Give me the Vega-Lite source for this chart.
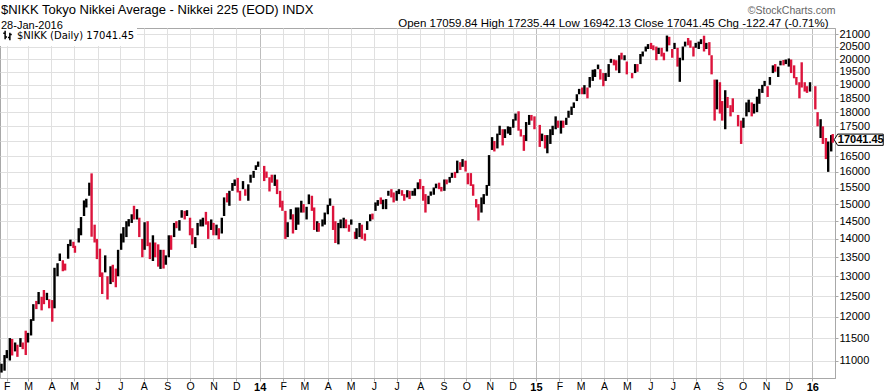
{
  "$schema": "https://vega.github.io/schema/vega-lite/v6.json",
  "width": 835,
  "height": 350,
  "autosize": {"type": "none"},
  "padding": {"left": 0, "top": 28, "right": 53, "bottom": 13},
  "background": "white",
  "config": {
    "font": "Liberation Sans",
    "view": {"stroke": "#a8a8a8"},
    "axis": {"labelFont": "Liberation Sans", "labelColor": "#000", "titleFont": "Liberation Sans"}
  },
  "title": {
    "text": "$NIKK Tokyo Nikkei Average - Nikkei 225 (EOD) INDX",
    "subtitle": "28-Jan-2016",
    "anchor": "start",
    "frame": "group",
    "offset": -26,
    "font": "Liberation Sans",
    "fontSize": 13,
    "fontWeight": "normal",
    "color": "#000",
    "subtitleFont": "Liberation Sans",
    "subtitleFontSize": 11,
    "subtitleColor": "#000",
    "subtitlePadding": 3,
    "dx": 1
  },
  "datasets": {
    "nikk": [
      {"d":"2013-01-25","h":10930,"l":10740,"c":10926},
      {"d":"2013-01-29","h":11120,"l":10780,"c":11113},
      {"d":"2013-02-01","h":11230,"l":11050,"c":11191},
      {"d":"2013-02-05","h":11500,"l":11000,"c":11463},
      {"d":"2013-02-08","h":11480,"l":11110,"c":11153},
      {"d":"2013-02-12","h":11400,"l":11200,"c":11251},
      {"d":"2013-02-15","h":11350,"l":11080,"c":11173},
      {"d":"2013-02-19","h":11500,"l":11300,"c":11468},
      {"d":"2013-02-22","h":11400,"l":11250,"c":11385},
      {"d":"2013-02-26","h":11670,"l":11120,"c":11253},
      {"d":"2013-03-01","h":11620,"l":11400,"c":11606},
      {"d":"2013-03-05","h":11940,"l":11560,"c":11932},
      {"d":"2013-03-08","h":12300,"l":11900,"c":12283},
      {"d":"2013-03-12","h":12380,"l":12180,"c":12239},
      {"d":"2013-03-15","h":12600,"l":12300,"c":12560},
      {"d":"2013-03-19","h":12480,"l":12150,"c":12468},
      {"d":"2013-03-22","h":12650,"l":12300,"c":12338},
      {"d":"2013-03-26","h":12580,"l":12400,"c":12494},
      {"d":"2013-03-29","h":12420,"l":12200,"c":12397},
      {"d":"2013-04-02","h":12400,"l":11880,"c":12362},
      {"d":"2013-04-05","h":13220,"l":12200,"c":12833},
      {"d":"2013-04-09","h":13340,"l":13000,"c":13288},
      {"d":"2013-04-12","h":13600,"l":13400,"c":13485},
      {"d":"2013-04-16","h":13420,"l":13130,"c":13382},
      {"d":"2013-04-19","h":13330,"l":13150,"c":13316},
      {"d":"2013-04-23","h":13860,"l":13460,"c":13843},
      {"d":"2013-04-26","h":13980,"l":13800,"c":13884},
      {"d":"2013-04-30","h":13920,"l":13750,"c":13799},
      {"d":"2013-05-02","h":13810,"l":13620,"c":13694},
      {"d":"2013-05-07","h":14300,"l":13900,"c":14285},
      {"d":"2013-05-10","h":14620,"l":14100,"c":14607},
      {"d":"2013-05-14","h":15110,"l":14650,"c":15096},
      {"d":"2013-05-17","h":15160,"l":14900,"c":15138},
      {"d":"2013-05-21","h":15650,"l":15250,"c":15627},
      {"d":"2013-05-24","h":15942,"l":14060,"c":14612},
      {"d":"2013-05-28","h":14400,"l":13900,"c":14326},
      {"d":"2013-05-31","h":14000,"l":13450,"c":13775},
      {"d":"2013-06-04","h":13730,"l":12980,"c":13014},
      {"d":"2013-06-07","h":13100,"l":12550,"c":12877},
      {"d":"2013-06-11","h":13550,"l":13100,"c":13289},
      {"d":"2013-06-14","h":13000,"l":12415,"c":12686},
      {"d":"2013-06-18","h":13260,"l":12800,"c":13245},
      {"d":"2013-06-21","h":13300,"l":12850,"c":13230},
      {"d":"2013-06-25","h":13200,"l":12720,"c":12834},
      {"d":"2013-06-28","h":13700,"l":13000,"c":13677},
      {"d":"2013-07-02","h":14150,"l":13700,"c":14055},
      {"d":"2013-07-05","h":14330,"l":13900,"c":14309},
      {"d":"2013-07-09","h":14500,"l":14050,"c":14416},
      {"d":"2013-07-12","h":14560,"l":14350,"c":14506},
      {"d":"2013-07-16","h":14700,"l":14450,"c":14615},
      {"d":"2013-07-19","h":14950,"l":14550,"c":14589},
      {"d":"2013-07-23","h":14850,"l":14550,"c":14731},
      {"d":"2013-07-26","h":14600,"l":14050,"c":14129},
      {"d":"2013-07-30","h":14000,"l":13500,"c":13668},
      {"d":"2013-08-02","h":14470,"l":13700,"c":14466},
      {"d":"2013-08-06","h":14500,"l":13800,"c":13825},
      {"d":"2013-08-09","h":13900,"l":13450,"c":13615},
      {"d":"2013-08-13","h":14100,"l":13400,"c":14050},
      {"d":"2013-08-16","h":13900,"l":13500,"c":13650},
      {"d":"2013-08-20","h":13850,"l":13250,"c":13424},
      {"d":"2013-08-23","h":13700,"l":13190,"c":13660},
      {"d":"2013-08-27","h":13700,"l":13200,"c":13338},
      {"d":"2013-08-30","h":13550,"l":13300,"c":13389},
      {"d":"2013-09-03","h":14100,"l":13500,"c":14054},
      {"d":"2013-09-06","h":14100,"l":13700,"c":13861},
      {"d":"2013-09-10","h":14450,"l":14050,"c":14425},
      {"d":"2013-09-13","h":14500,"l":14300,"c":14404},
      {"d":"2013-09-17","h":14530,"l":14230,"c":14505},
      {"d":"2013-09-20","h":14820,"l":14600,"c":14742},
      {"d":"2013-09-24","h":14800,"l":14550,"c":14620},
      {"d":"2013-09-27","h":14820,"l":14650,"c":14760},
      {"d":"2013-10-01","h":14600,"l":14100,"c":14170},
      {"d":"2013-10-04","h":14300,"l":13850,"c":14024},
      {"d":"2013-10-08","h":14050,"l":13750,"c":14037},
      {"d":"2013-10-11","h":14450,"l":14100,"c":14404},
      {"d":"2013-10-15","h":14550,"l":14350,"c":14468},
      {"d":"2013-10-18","h":14600,"l":14350,"c":14562},
      {"d":"2013-10-22","h":14770,"l":14400,"c":14426},
      {"d":"2013-10-25","h":14500,"l":14000,"c":14088},
      {"d":"2013-10-29","h":14550,"l":14250,"c":14502},
      {"d":"2013-11-01","h":14450,"l":14100,"c":14201},
      {"d":"2013-11-05","h":14400,"l":14100,"c":14337},
      {"d":"2013-11-08","h":14300,"l":13990,"c":14086},
      {"d":"2013-11-12","h":14600,"l":14150,"c":14567},
      {"d":"2013-11-15","h":15200,"l":14650,"c":15165},
      {"d":"2013-11-19","h":15330,"l":15050,"c":15126},
      {"d":"2013-11-22","h":15400,"l":14950,"c":15381},
      {"d":"2013-11-26","h":15640,"l":15400,"c":15449},
      {"d":"2013-11-29","h":15750,"l":15550,"c":15661},
      {"d":"2013-12-03","h":15800,"l":15350,"c":15407},
      {"d":"2013-12-06","h":15400,"l":15100,"c":15299},
      {"d":"2013-12-10","h":15700,"l":15450,"c":15515},
      {"d":"2013-12-13","h":15450,"l":15250,"c":15403},
      {"d":"2013-12-17","h":15600,"l":15100,"c":15587},
      {"d":"2013-12-20","h":15900,"l":15650,"c":15870},
      {"d":"2013-12-24","h":16020,"l":15800,"c":16009},
      {"d":"2013-12-27","h":16200,"l":16050,"c":16179},
      {"d":"2013-12-30","h":16320,"l":16150,"c":16291},
      {"d":"2014-01-07","h":16180,"l":15700,"c":16121},
      {"d":"2014-01-10","h":16000,"l":15800,"c":15912},
      {"d":"2014-01-14","h":15820,"l":15380,"c":15809},
      {"d":"2014-01-17","h":15900,"l":15650,"c":15734},
      {"d":"2014-01-21","h":15900,"l":15550,"c":15821},
      {"d":"2014-01-24","h":15750,"l":15300,"c":15391},
      {"d":"2014-01-28","h":15400,"l":14900,"c":15384},
      {"d":"2014-01-31","h":15100,"l":14800,"c":14915},
      {"d":"2014-02-04","h":14800,"l":14000,"c":14181},
      {"d":"2014-02-07","h":14470,"l":14050,"c":14463},
      {"d":"2014-02-11","h":14850,"l":14550,"c":14800},
      {"d":"2014-02-14","h":14700,"l":14150,"c":14313},
      {"d":"2014-02-18","h":14900,"l":14250,"c":14766},
      {"d":"2014-02-21","h":14900,"l":14400,"c":14865},
      {"d":"2014-02-25","h":15100,"l":14750,"c":14923},
      {"d":"2014-02-28","h":15000,"l":14750,"c":14841},
      {"d":"2014-03-04","h":14920,"l":14550,"c":14897},
      {"d":"2014-03-07","h":15290,"l":15000,"c":15274},
      {"d":"2014-03-11","h":15250,"l":14800,"c":14830},
      {"d":"2014-03-14","h":14900,"l":14250,"c":14327},
      {"d":"2014-03-18","h":14500,"l":14200,"c":14463},
      {"d":"2014-03-20","h":14450,"l":14200,"c":14224},
      {"d":"2014-03-25","h":14550,"l":14350,"c":14478},
      {"d":"2014-03-28","h":14750,"l":14400,"c":14696},
      {"d":"2014-04-01","h":14980,"l":14700,"c":14946},
      {"d":"2014-04-04","h":15170,"l":14950,"c":15063},
      {"d":"2014-04-08","h":14950,"l":14250,"c":14300},
      {"d":"2014-04-11","h":14500,"l":13885,"c":13960},
      {"d":"2014-04-15","h":14450,"l":13850,"c":14418},
      {"d":"2014-04-18","h":14550,"l":14300,"c":14516},
      {"d":"2014-04-22","h":14600,"l":14300,"c":14546},
      {"d":"2014-04-25","h":14550,"l":14300,"c":14429},
      {"d":"2014-04-29","h":14400,"l":14200,"c":14304},
      {"d":"2014-05-02","h":14550,"l":14400,"c":14457},
      {"d":"2014-05-07","h":14200,"l":14000,"c":14033},
      {"d":"2014-05-09","h":14300,"l":14000,"c":14199},
      {"d":"2014-05-13","h":14450,"l":14050,"c":14405},
      {"d":"2014-05-16","h":14400,"l":14000,"c":14097},
      {"d":"2014-05-20","h":14150,"l":13950,"c":14043},
      {"d":"2014-05-23","h":14500,"l":14250,"c":14462},
      {"d":"2014-05-27","h":14700,"l":14500,"c":14670},
      {"d":"2014-05-30","h":14720,"l":14550,"c":14632},
      {"d":"2014-06-03","h":15050,"l":14800,"c":14983},
      {"d":"2014-06-06","h":15120,"l":14950,"c":15077},
      {"d":"2014-06-10","h":15200,"l":15000,"c":15069},
      {"d":"2014-06-13","h":15130,"l":14850,"c":15098},
      {"d":"2014-06-17","h":15150,"l":14850,"c":15115},
      {"d":"2014-06-20","h":15400,"l":15250,"c":15349},
      {"d":"2014-06-24","h":15450,"l":15200,"c":15267},
      {"d":"2014-06-27","h":15350,"l":15050,"c":15095},
      {"d":"2014-07-01","h":15400,"l":15100,"c":15369},
      {"d":"2014-07-04","h":15450,"l":15300,"c":15437},
      {"d":"2014-07-08","h":15420,"l":15250,"c":15303},
      {"d":"2014-07-11","h":15300,"l":15100,"c":15164},
      {"d":"2014-07-15","h":15420,"l":15200,"c":15379},
      {"d":"2014-07-18","h":15400,"l":15150,"c":15215},
      {"d":"2014-07-22","h":15400,"l":15250,"c":15329},
      {"d":"2014-07-25","h":15480,"l":15250,"c":15457},
      {"d":"2014-07-29","h":15660,"l":15450,"c":15646},
      {"d":"2014-08-01","h":15760,"l":15450,"c":15523},
      {"d":"2014-08-05","h":15550,"l":15100,"c":15160},
      {"d":"2014-08-08","h":15300,"l":14750,"c":14778},
      {"d":"2014-08-12","h":15250,"l":15000,"c":15213},
      {"d":"2014-08-15","h":15380,"l":15250,"c":15318},
      {"d":"2014-08-19","h":15500,"l":15280,"c":15454},
      {"d":"2014-08-22","h":15620,"l":15480,"c":15539},
      {"d":"2014-08-26","h":15650,"l":15450,"c":15535},
      {"d":"2014-08-29","h":15520,"l":15380,"c":15425},
      {"d":"2014-09-02","h":15750,"l":15400,"c":15728},
      {"d":"2014-09-05","h":15750,"l":15600,"c":15668},
      {"d":"2014-09-09","h":15830,"l":15650,"c":15788},
      {"d":"2014-09-12","h":15960,"l":15800,"c":15948},
      {"d":"2014-09-16","h":15990,"l":15800,"c":15888},
      {"d":"2014-09-19","h":16350,"l":15950,"c":16321},
      {"d":"2014-09-23","h":16300,"l":16050,"c":16168},
      {"d":"2014-09-26","h":16400,"l":16150,"c":16230},
      {"d":"2014-09-30","h":16350,"l":16000,"c":16083},
      {"d":"2014-10-03","h":15950,"l":15600,"c":15709},
      {"d":"2014-10-07","h":15950,"l":15550,"c":15596},
      {"d":"2014-10-10","h":15600,"l":15250,"c":15300},
      {"d":"2014-10-14","h":15150,"l":14900,"c":15074},
      {"d":"2014-10-17","h":15000,"l":14520,"c":14532},
      {"d":"2014-10-21","h":15200,"l":14750,"c":15196},
      {"d":"2014-10-24","h":15300,"l":15000,"c":15291},
      {"d":"2014-10-28","h":15580,"l":15250,"c":15554},
      {"d":"2014-10-31","h":16530,"l":15550,"c":16414},
      {"d":"2014-11-04","h":17130,"l":16700,"c":16937},
      {"d":"2014-11-07","h":17000,"l":16650,"c":16881},
      {"d":"2014-11-11","h":17250,"l":16750,"c":17197},
      {"d":"2014-11-14","h":17520,"l":17200,"c":17491},
      {"d":"2014-11-18","h":17400,"l":16850,"c":17288},
      {"d":"2014-11-21","h":17400,"l":17100,"c":17358},
      {"d":"2014-11-25","h":17500,"l":17250,"c":17384},
      {"d":"2014-11-28","h":17480,"l":17200,"c":17460},
      {"d":"2014-12-02","h":17750,"l":17450,"c":17720},
      {"d":"2014-12-05","h":17950,"l":17700,"c":17921},
      {"d":"2014-12-09","h":18030,"l":17350,"c":17413},
      {"d":"2014-12-12","h":17400,"l":17150,"c":17371},
      {"d":"2014-12-16","h":17200,"l":16670,"c":16820},
      {"d":"2014-12-19","h":17650,"l":17000,"c":17621},
      {"d":"2014-12-23","h":17900,"l":17550,"c":17854},
      {"d":"2014-12-26","h":17900,"l":17700,"c":17818},
      {"d":"2014-12-30","h":17850,"l":17400,"c":17451},
      {"d":"2015-01-06","h":17550,"l":16800,"c":16885},
      {"d":"2015-01-09","h":17250,"l":17000,"c":17198},
      {"d":"2015-01-13","h":17200,"l":16750,"c":16796},
      {"d":"2015-01-16","h":17200,"l":16590,"c":16864},
      {"d":"2015-01-20","h":17400,"l":16900,"c":17280},
      {"d":"2015-01-23","h":17520,"l":17200,"c":17512},
      {"d":"2015-01-27","h":17850,"l":17400,"c":17796},
      {"d":"2015-01-30","h":17700,"l":17450,"c":17674},
      {"d":"2015-02-03","h":17700,"l":17250,"c":17679},
      {"d":"2015-02-06","h":17700,"l":17450,"c":17648},
      {"d":"2015-02-10","h":17800,"l":17550,"c":17652},
      {"d":"2015-02-13","h":18050,"l":17800,"c":17913},
      {"d":"2015-02-17","h":18200,"l":17900,"c":18199},
      {"d":"2015-02-20","h":18350,"l":18150,"c":18332},
      {"d":"2015-02-24","h":18650,"l":18400,"c":18585},
      {"d":"2015-02-27","h":18850,"l":18650,"c":18798},
      {"d":"2015-03-03","h":18900,"l":18650,"c":18704},
      {"d":"2015-03-06","h":18990,"l":18650,"c":18971},
      {"d":"2015-03-10","h":18900,"l":18500,"c":18723},
      {"d":"2015-03-13","h":19300,"l":18900,"c":19254},
      {"d":"2015-03-17","h":19580,"l":19150,"c":19544},
      {"d":"2015-03-20","h":19600,"l":19300,"c":19560},
      {"d":"2015-03-24","h":19780,"l":19600,"c":19746},
      {"d":"2015-03-27","h":19600,"l":19200,"c":19286},
      {"d":"2015-03-31","h":19450,"l":18950,"c":19035},
      {"d":"2015-04-03","h":19450,"l":19150,"c":19435},
      {"d":"2015-04-07","h":19800,"l":19300,"c":19790},
      {"d":"2015-04-10","h":20006,"l":19850,"c":19908},
      {"d":"2015-04-14","h":19980,"l":19750,"c":19870},
      {"d":"2015-04-17","h":19950,"l":19550,"c":19653},
      {"d":"2015-04-21","h":20150,"l":19450,"c":20134},
      {"d":"2015-04-24","h":20250,"l":19980,"c":20020},
      {"d":"2015-04-28","h":20150,"l":19950,"c":20059},
      {"d":"2015-05-01","h":19900,"l":19400,"c":19532},
      {"d":"2015-05-08","h":19450,"l":19250,"c":19380},
      {"d":"2015-05-12","h":19800,"l":19450,"c":19765},
      {"d":"2015-05-15","h":19800,"l":19500,"c":19733},
      {"d":"2015-05-19","h":20200,"l":19800,"c":20197},
      {"d":"2015-05-22","h":20300,"l":20100,"c":20264},
      {"d":"2015-05-26","h":20500,"l":20300,"c":20473},
      {"d":"2015-05-29","h":20600,"l":20400,"c":20563},
      {"d":"2015-06-02","h":20650,"l":20400,"c":20474},
      {"d":"2015-06-05","h":20550,"l":20350,"c":20461},
      {"d":"2015-06-09","h":20500,"l":19950,"c":20047},
      {"d":"2015-06-12","h":20450,"l":20200,"c":20407},
      {"d":"2015-06-16","h":20450,"l":20100,"c":20220},
      {"d":"2015-06-19","h":20250,"l":19950,"c":20174},
      {"d":"2015-06-23","h":20952,"l":20300,"c":20868},
      {"d":"2015-06-26","h":20900,"l":20550,"c":20706},
      {"d":"2015-06-30","h":20400,"l":20050,"c":20329},
      {"d":"2015-07-03","h":20650,"l":20400,"c":20540},
      {"d":"2015-07-07","h":20450,"l":19700,"c":19738},
      {"d":"2015-07-10","h":20050,"l":19115,"c":19780},
      {"d":"2015-07-14","h":20500,"l":19950,"c":20464},
      {"d":"2015-07-17","h":20700,"l":20500,"c":20650},
      {"d":"2015-07-21","h":20850,"l":20550,"c":20593},
      {"d":"2015-07-24","h":20750,"l":20450,"c":20545},
      {"d":"2015-07-28","h":20500,"l":20100,"c":20303},
      {"d":"2015-07-31","h":20650,"l":20450,"c":20585},
      {"d":"2015-08-04","h":20700,"l":20400,"c":20614},
      {"d":"2015-08-07","h":20800,"l":20600,"c":20725},
      {"d":"2015-08-11","h":20946,"l":20300,"c":20392},
      {"d":"2015-08-14","h":20650,"l":20400,"c":20520},
      {"d":"2015-08-18","h":20680,"l":20150,"c":20222},
      {"d":"2015-08-21","h":20150,"l":19400,"c":19436},
      {"d":"2015-08-25","h":19200,"l":17700,"c":18376},
      {"d":"2015-08-28","h":19200,"l":18100,"c":19136},
      {"d":"2015-09-01","h":19100,"l":17950,"c":18095},
      {"d":"2015-09-04","h":18400,"l":17700,"c":17792},
      {"d":"2015-09-08","h":18800,"l":17400,"c":18770},
      {"d":"2015-09-11","h":18550,"l":18150,"c":18264},
      {"d":"2015-09-15","h":18250,"l":17850,"c":18171},
      {"d":"2015-09-18","h":18500,"l":18000,"c":18070},
      {"d":"2015-09-25","h":17900,"l":17500,"c":17880},
      {"d":"2015-09-29","h":17700,"l":16900,"c":17388},
      {"d":"2015-10-02","h":17800,"l":17450,"c":17725},
      {"d":"2015-10-06","h":18350,"l":17850,"c":18323},
      {"d":"2015-10-09","h":18450,"l":18000,"c":18438},
      {"d":"2015-10-13","h":18350,"l":17850,"c":17892},
      {"d":"2015-10-16","h":18300,"l":17950,"c":18292},
      {"d":"2015-10-20","h":18560,"l":18000,"c":18555},
      {"d":"2015-10-23","h":18850,"l":18300,"c":18826},
      {"d":"2015-10-27","h":19000,"l":18700,"c":18904},
      {"d":"2015-10-30","h":19150,"l":18950,"c":19083},
      {"d":"2015-11-03","h":18950,"l":18550,"c":18927},
      {"d":"2015-11-06","h":19300,"l":19000,"c":19265},
      {"d":"2015-11-10","h":19750,"l":19450,"c":19697},
      {"d":"2015-11-13","h":19800,"l":19500,"c":19597},
      {"d":"2015-11-17","h":19700,"l":19300,"c":19649},
      {"d":"2015-11-20","h":19930,"l":19750,"c":19880},
      {"d":"2015-11-24","h":19960,"l":19750,"c":19848},
      {"d":"2015-11-27","h":19980,"l":19800,"c":19884},
      {"d":"2015-12-01","h":20020,"l":19700,"c":19939},
      {"d":"2015-12-04","h":19980,"l":19450,"c":19504},
      {"d":"2015-12-08","h":19750,"l":19250,"c":19302},
      {"d":"2015-12-11","h":19300,"l":19000,"c":19230},
      {"d":"2015-12-15","h":19100,"l":18500,"c":19050},
      {"d":"2015-12-18","h":19870,"l":18900,"c":18987},
      {"d":"2015-12-22","h":19100,"l":18750,"c":18887},
      {"d":"2015-12-25","h":18950,"l":18700,"c":18770},
      {"d":"2015-12-29","h":19100,"l":18750,"c":19034},
      {"d":"2016-01-05","h":18950,"l":18100,"c":18192},
      {"d":"2016-01-08","h":18000,"l":17500,"c":17698},
      {"d":"2016-01-12","h":17750,"l":17100,"c":17716},
      {"d":"2016-01-15","h":17500,"l":16900,"c":17147},
      {"d":"2016-01-19","h":17100,"l":16400,"c":16416},
      {"d":"2016-01-22","h":16980,"l":15990,"c":16959},
      {"d":"2016-01-26","h":17200,"l":16650,"c":17164},
      {"d":"2016-01-28","h":17235,"l":16942,"c":17041.45}
    ],
    "legendrow": [
      {"s": "$NIKK (Daily) 17041.45"}
    ]
  },
  "layer": [
    {
      "data": {"name": "nikk"},
      "transform": [
        {"window": [{"op": "lag", "field": "c", "as": "pc"}], "sort": [{"field": "d", "order": "ascending"}]}
      ],
      "mark": {"type": "rule", "strokeWidth": 2.4},
      "encoding": {
        "x": {
          "field": "d",
          "type": "temporal",
          "title": "©StockCharts.com",
          "scale": {
            "type": "utc",
            "nice": false,
            "domain": [
              {"year": 2013, "month": 1, "date": 23, "utc": true},
              {"year": 2016, "month": 1, "date": 31, "utc": true}
            ]
          },
          "axis": {
            "orient": "bottom",
            "tickCount": {"interval": "month", "step": 1},
            "labelExpr": "utcmonth(datum.value) == 0 ? utcFormat(datum.value, '%y') : slice(utcFormat(datum.value, '%b'), 0, 1)",
            "labelFontWeight": {"condition": {"test": "utcmonth(datum.value) == 0", "value": "bold"}, "value": "normal"},
            "labelFontSize": {"condition": {"test": "utcmonth(datum.value) == 0", "value": 11}, "value": 10.5},
            "labelOverlap": false,
            "labelFlush": false,
            "labelPadding": 0,
            "tickSize": 3,
            "tickColor": "#a8a8a8",
            "domainColor": "#a8a8a8",
            "grid": true,
            "gridColor": {"condition": {"test": "utcmonth(datum.value) == 0", "value": "#bdbdbd"}, "value": "#e0e0e0"},
            "titleX": 835,
            "titleY": -365,
            "titleAlign": "right",
            "titleBaseline": "alphabetic",
            "titleAngle": 0,
            "titleFontSize": 10.5,
            "titleFontWeight": "normal",
            "titleColor": "#666666"
          }
        },
        "y": {
          "field": "l",
          "type": "quantitative",
          "title": "Open 17059.84  High 17235.44  Low 16942.13  Close 17041.45  Chg -122.47 (-0.71%)",
          "scale": {"type": "log", "domain": [10625, 21268], "nice": false, "zero": false},
          "axis": {
            "orient": "right",
            "values": [11000, 11500, 12000, 12500, 13000, 13500, 14000, 14500, 15000, 15500, 16000, 16500, 17000, 17500, 18000, 18500, 19000, 19500, 20000, 20500, 21000],
            "format": "d",
            "labelExpr": "datum.value == 17000 ? '' : datum.label",
            "labelFontSize": 11,
            "labelPadding": 1,
            "tickSize": 3,
            "tickColor": "#a8a8a8",
            "domainColor": "#a8a8a8",
            "grid": true,
            "gridColor": "#e0e0e0",
            "titleX": -7,
            "titleY": -2,
            "titleAngle": 0,
            "titleAlign": "right",
            "titleBaseline": "alphabetic",
            "titleFontSize": 11.5,
            "titleFontWeight": "normal",
            "titleColor": "#000000"
          }
        },
        "y2": {"field": "h"},
        "color": {"condition": {"test": "datum.pc == null || datum.c >= datum.pc", "value": "#000000"}, "value": "#dc143c"}
      }
    },
    {
      "data": {"name": "legendrow"},
      "mark": {"type": "point", "opacity": 0, "color": "#000000", "filled": false},
      "encoding": {
        "shape": {
          "field": "s",
          "type": "nominal",
          "scale": {"range": ["M -0.5 -1 L -0.5 0.8 M -0.9 -0.5 L -0.5 -0.5 M -0.5 0.3 L -0.1 0.3 M 0.5 -0.6 L 0.5 1 M 0.1 0.4 L 0.5 0.4 M 0.5 -0.2 L 0.9 -0.2"]},
          "legend": {
            "orient": "top-left",
            "offset": 0,
            "padding": 2,
            "title": null,
            "fillColor": "white",
            "symbolOpacity": 1,
            "symbolStrokeColor": "#000000",
            "symbolFillColor": "transparent",
            "symbolStrokeWidth": 1.5,
            "symbolSize": 90,
            "labelFont": "DejaVu Sans",
            "labelFontSize": 10,
            "labelColor": "#000000",
            "labelOffset": 4,
            "labelLimit": 300
          }
        }
      }
    },
    {
      "data": {"name": "nikk"},
      "transform": [{"filter": {"field": "d", "equal": {"year": 2016, "month": 1, "date": 28, "utc": true}}}],
      "mark": {
        "type": "point",
        "shape": "M -1 0 L -0.86 -0.23 L 1 -0.23 L 1 0.23 L -0.86 0.23 Z",
        "size": 2401,
        "filled": true,
        "fill": "white",
        "stroke": "#000000",
        "strokeWidth": 1,
        "opacity": 1,
        "xOffset": 26
      },
      "encoding": {
        "x": {"field": "d", "type": "temporal", "title": "©StockCharts.com"},
        "y": {"field": "c", "type": "quantitative", "title": "Open 17059.84  High 17235.44  Low 16942.13  Close 17041.45  Chg -122.47 (-0.71%)"}
      }
    },
    {
      "data": {"name": "nikk"},
      "transform": [{"filter": {"field": "d", "equal": {"year": 2016, "month": 1, "date": 28, "utc": true}}}],
      "mark": {
        "type": "text",
        "font": "Liberation Sans",
        "fontSize": 11,
        "fontWeight": "bold",
        "color": "#000000",
        "align": "center",
        "baseline": "middle",
        "xOffset": 28,
        "yOffset": 0
      },
      "encoding": {
        "x": {"field": "d", "type": "temporal", "title": "©StockCharts.com"},
        "y": {"field": "c", "type": "quantitative", "title": "Open 17059.84  High 17235.44  Low 16942.13  Close 17041.45  Chg -122.47 (-0.71%)"},
        "text": {"field": "c", "type": "quantitative", "format": ".2f"}
      }
    }
  ]
}
